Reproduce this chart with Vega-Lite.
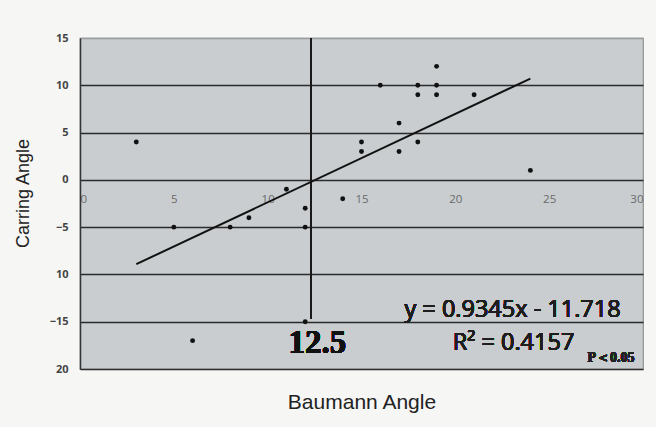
{
  "$schema": "https://vega.github.io/schema/vega-lite/v6.json",
  "autosize": "none",
  "padding": {"left": 80, "top": 38, "right": 13, "bottom": 58},
  "width": 563,
  "height": 331,
  "background": "#f6f6f5",
  "view": {"fill": "#c9cdcf", "stroke": "#8e9192", "strokeWidth": 1.2},
  "config": {"font": "Liberation Sans"},
  "data": {
    "values": [
      {"baumann": 3, "carrying": 4},
      {"baumann": 5, "carrying": -5},
      {"baumann": 6, "carrying": -17},
      {"baumann": 8, "carrying": -5},
      {"baumann": 9, "carrying": -4},
      {"baumann": 11, "carrying": -1},
      {"baumann": 12, "carrying": -3},
      {"baumann": 12, "carrying": -5},
      {"baumann": 12, "carrying": -15},
      {"baumann": 14, "carrying": -2},
      {"baumann": 15, "carrying": 4},
      {"baumann": 15, "carrying": 3},
      {"baumann": 16, "carrying": 10},
      {"baumann": 17, "carrying": 6},
      {"baumann": 17, "carrying": 3},
      {"baumann": 18, "carrying": 10},
      {"baumann": 18, "carrying": 9},
      {"baumann": 18, "carrying": 4},
      {"baumann": 19, "carrying": 12},
      {"baumann": 19, "carrying": 10},
      {"baumann": 19, "carrying": 9},
      {"baumann": 21, "carrying": 9},
      {"baumann": 24, "carrying": 1}
    ]
  },
  "encoding": {
    "x": {
      "field": "baumann",
      "type": "quantitative",
      "scale": {"domain": [0, 30], "nice": false, "zero": false},
      "axis": {
        "orient": "bottom",
        "offset": -189,
        "values": [0, 5, 10, 15, 20, 25, 30],
        "grid": false,
        "domain": false,
        "ticks": false,
        "labelPadding": 13,
        "labelFontSize": 11.5,
        "labelColor": "#6a6a6a",
        "labelFont": "Open Sans",
        "title": "Baumann Angle",
        "titleFont": "Liberation Sans",
        "titleFontSize": 21,
        "titleFontWeight": "normal",
        "titleColor": "#222222",
        "titlePadding": 187
      }
    },
    "y": {
      "field": "carrying",
      "type": "quantitative",
      "scale": {"domain": [-20, 15], "nice": false, "zero": false},
      "axis": {
        "values": [-20, -15, -10, -5, 0, 5, 10, 15],
        "grid": true,
        "gridColor": {"condition": {"test": "datum.value == 15", "value": "#9a9d9e"}, "value": "#2b2b2b"},
        "gridWidth": 1.4,
        "domain": true,
        "domainColor": "#333333",
        "domainWidth": 1.5,
        "ticks": false,
        "labelPadding": 12,
        "labelFontSize": 11,
        "labelFontWeight": "bold",
        "labelColor": "#444444",
        "labelFont": "Open Sans",
        "labelExpr": "datum.value == -10 ? '10' : datum.value == -20 ? '20' : datum.label",
        "title": "Carring Angle",
        "titleFont": "Liberation Sans",
        "titleFontSize": 18,
        "titleFontWeight": "normal",
        "titleColor": "#222222",
        "titlePadding": 17,
        "titleY": 155
      }
    }
  },
  "layer": [
    {
      "mark": {"type": "rule", "color": "#1a1a1a", "strokeWidth": 1.6},
      "encoding": {
        "x": {"datum": 12.3},
        "y": {"datum": 15},
        "y2": {"datum": -14.7}
      }
    },
    {
      "transform": [
        {"regression": "carrying", "on": "baumann", "extent": [3, 24]}
      ],
      "mark": {"type": "line", "color": "#111111", "strokeWidth": 2}
    },
    {
      "mark": {"type": "circle", "color": "#111111", "opacity": 1, "size": 24}
    },
    {
      "mark": {"type": "text", "font": "Open Sans", "fontSize": 23.5, "fontWeight": "normal", "color": "#1e1e1e", "align": "center", "baseline": "alphabetic"},
      "encoding": {
        "x": {"datum": 23.05},
        "y": {"datum": -14.5},
        "text": {"value": "y = 0.9345x - 11.718"}
      }
    },
    {
      "mark": {"type": "text", "font": "Open Sans", "fontSize": 23.5, "fontWeight": "normal", "color": "#1e1e1e", "align": "center", "baseline": "alphabetic"},
      "encoding": {
        "x": {"datum": 23.1},
        "y": {"datum": -18.0},
        "text": {"value": "R² = 0.4157"}
      }
    },
    {
      "mark": {"type": "text", "font": "Liberation Serif", "fontSize": 33, "fontWeight": "bold", "color": "#111111", "align": "center", "baseline": "alphabetic"},
      "encoding": {
        "x": {"datum": 12.65},
        "y": {"datum": -18.3},
        "text": {"value": "12.5"}
      }
    },
    {
      "mark": {"type": "text", "font": "Liberation Serif", "fontSize": 14, "fontWeight": "bold", "color": "#222222", "align": "center", "baseline": "alphabetic"},
      "encoding": {
        "x": {"datum": 28.3},
        "y": {"datum": -19.3},
        "text": {"value": "P＜0.05"}
      }
    }
  ]
}
